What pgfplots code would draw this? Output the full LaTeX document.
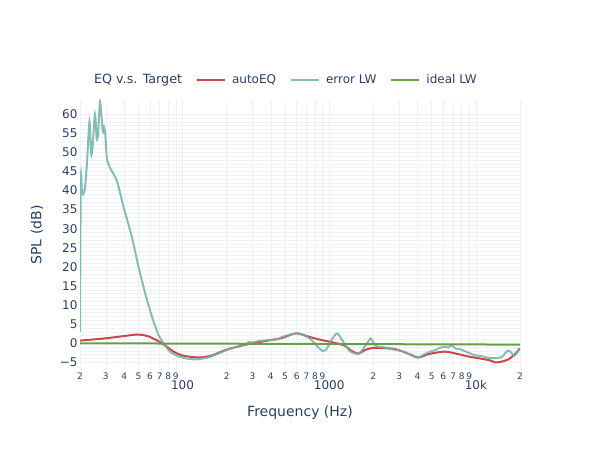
\documentclass[border=0pt]{standalone}
\usepackage{pgfplots}
\pgfplotsset{compat=1.18}
\usepackage{fontspec}
\setmainfont{DejaVu Sans}

\definecolor{txt}{HTML}{2A3F5F}
\definecolor{gridmaj}{HTML}{E3E9F1}
\definecolor{gridmin}{HTML}{EEF2F7}
\definecolor{autoeq}{RGB}{200,72,78}
\definecolor{errlw}{RGB}{118,176,166}
\definecolor{ideal}{RGB}{104,156,72}

\begin{document}
\begin{tikzpicture}[x=1pt,y=1pt]
\useasboundingbox (0,0) rectangle (600,450);
\begin{axis}[
    at={(80pt,80pt)}, anchor=south west,
    width=440pt, height=270pt, scale only axis,
    xmode=log, log basis x=10,
    xmin=20, xmax=20000,
    ymin=-7, ymax=63.7,
    axis line style={draw=none},
    tick style={draw=none},
    % small labels 2..9 in each decade
    xtick={20,30,40,50,60,70,80,90,200,300,400,500,600,700,800,900,
           2000,3000,4000,5000,6000,7000,8000,9000,20000},
    xticklabels={2,3,4,5,6,7,8,9,2,3,4,5,6,7,8,9,2,3,4,5,6,7,8,9,2},
    xticklabel style={font=\fontsize{9}{11}\selectfont, text=txt, yshift=1pt},
    extra x ticks={100,1000,10000},
    extra x tick labels={100,1000,10k},
    extra x tick style={
        grid style={gridmaj, line width=0.8pt},
        xticklabel style={font=\fontsize{12}{14}\selectfont, text=txt, yshift=-8pt}},
    ytick={-5,0,5,...,60},
    yticklabels={−5,0,5,10,15,20,25,30,35,40,45,50,55,60},
    minor y tick num=4,
    yticklabel style={font=\fontsize{12}{14}\selectfont, text=txt, xshift=1pt},
    xmajorgrids, ymajorgrids, yminorgrids,
    major grid style={gridmin, line width=0.6pt},
    minor grid style={gridmin, line width=0.5pt},
    xlabel={Frequency (Hz)},
    ylabel={SPL (dB)},
    xlabel style={font=\fontsize{14}{16}\selectfont, text=txt,
        at={(axis description cs:0.5,-0.159)}, anchor=center},
    ylabel style={font=\fontsize{14}{16}\selectfont, text=txt,
        at={(axis description cs:-0.098,0.5)}, anchor=center, rotate=0},
    legend columns=-1,
    legend style={at={(axis description cs:0.018,1.074)}, anchor=west,
        draw=none, fill=none, inner sep=0pt, text=txt,
        font=\fontsize{12}{14}\selectfont,
        nodes={inner sep=0pt},
        /tikz/every odd column/.append style={column sep=6pt},
        /tikz/every even column/.append style={column sep=14pt}},
    legend image code/.code={\draw[#1] (0pt,0pt) -- (28pt,0pt);},
]
\addlegendimage{empty legend}
\addlegendentry[font=\fontsize{12.7}{14}\selectfont]{EQ v.s. Target}

% autoEQ
\addplot[autoeq, line width=2pt, smooth, tension=0.5] coordinates {
(20,0.7) (30,1.3) (40,1.9) (48.9,2.3) (53,2.2) (58.7,1.8) (65,1.0)
(72.5,0) (80,-1.2) (87.1,-2.2) (100,-3.2) (126,-3.7) (155,-3.3)
(202,-1.6) (277,-0.3) (380,0.7) (469,1.3) (594,2.6) (714,1.8)
(850,1.0) (979,0.5) (1120,0) (1272,-0.6) (1400,-1.8) (1571,-2.7)
(1750,-1.8) (1990,-1.2) (2400,-1.3) (2800,-1.5) (3400,-2.6)
(4045,-3.7) (4800,-2.8) (6150,-2.2) (7500,-2.8) (9000,-3.5)
(12200,-4.4) (13550,-5) (15000,-4.8) (16700,-4.2) (18500,-2.8)
(20000,-1.3)
};
\addlegendentry{autoEQ}

% error LW
\addplot[errlw, line width=2pt, draw opacity=0.85, smooth, tension=0.4] coordinates {
(20,3) (20.25,43) (20.6,40) (21.0,39) (21.6,40.5) (22.3,47) (23.2,58)
(23.8,49.5) (24.3,51) (25.3,60) (26.0,53.5) (26.6,55) (27.4,63.3)
(28.6,55.5) (29.2,56.5) (29.7,55) (30.5,48.5) (32,46) (35.7,42.5)
(39.6,35.7) (45.2,27.8) (50.1,20) (55.7,13) (62,6.9) (68.7,2.1)
(74.4,0) (82.7,-2.3) (95,-3.5) (110,-4.1) (126,-4.2) (150,-3.7)
(175,-2.7) (202,-1.7) (240,-0.8) (270,-0.2) (285,0.4) (300,0.2)
(330,0.6) (360,0.7) (400,0.9) (440,1.0) (470,1.5) (500,1.9)
(560,2.4) (600,2.6) (650,2.3) (714,1.6) (760,0.8) (830,-0.8)
(900,-2.0) (960,-1.5) (1050,1.2) (1133,2.6) (1220,1.0) (1300,-0.8)
(1400,-2.2) (1571,-2.8) (1700,-1.5) (1850,0.5) (1919,1.3) (2000,0.2)
(2100,-0.8) (2300,-1.0) (2500,-1.3) (2800,-1.7) (3100,-2.0)
(3400,-2.6) (3700,-3.3) (4045,-3.8) (4400,-3.0) (4865,-2.2)
(5300,-1.8) (5700,-1.2) (6150,-0.9) (6500,-1.1) (6800,-0.5)
(7300,-1.4) (7900,-1.6) (8700,-2.3) (9800,-3.1) (11000,-3.4)
(12200,-3.8) (13550,-3.9) (15000,-3.6) (16000,-2.4) (16700,-1.9)
(17500,-2.5) (18200,-3.3) (19000,-2.6) (20000,-1.3)
};
\addlegendentry{error LW}

% ideal LW
\addplot[ideal, line width=2pt] coordinates {
(20,0) (20000,-0.35)
};
\addlegendentry{ideal LW}
\end{axis}
\end{tikzpicture}
\end{document}
